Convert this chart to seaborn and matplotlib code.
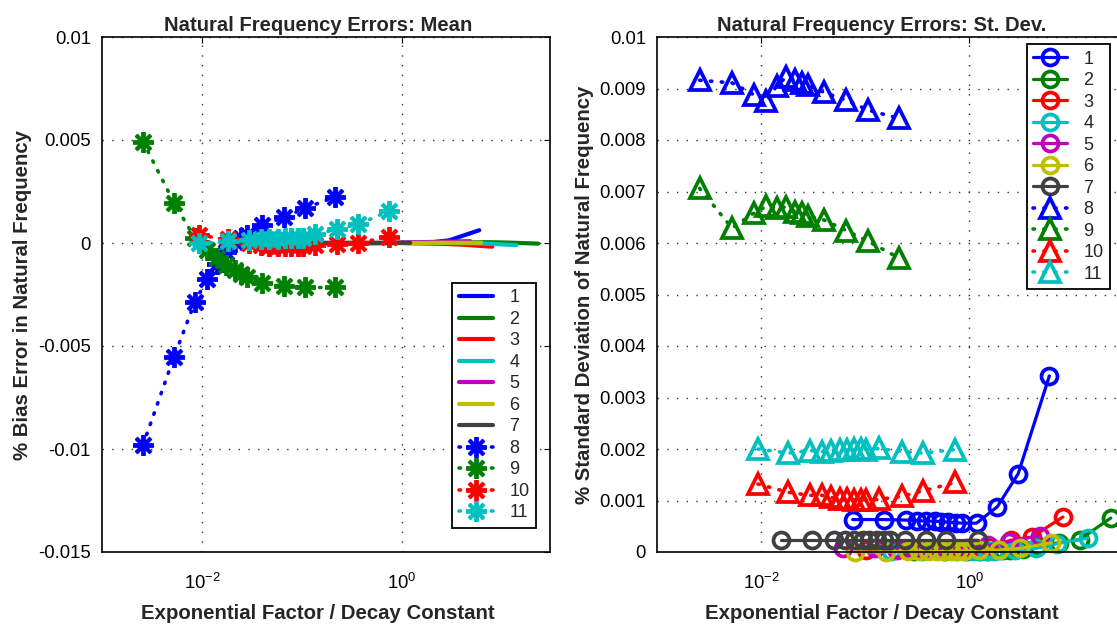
import matplotlib
matplotlib.use("Agg")
import matplotlib.pyplot as plt
import seaborn as sns
from matplotlib.ticker import FixedLocator, NullLocator, LogFormatterMathtext

# ---- data ------------------------------------------------------------------
LABELS = ["1", "2", "3", "4", "5", "6", "7", "8", "9", "10", "11"]
COLORS = [(0, 0, 1), (0, 0.5, 0), (1, 0, 0), (0, 0.75, 0.75), (0.75, 0, 0.75),
          (0.75, 0.75, 0), (0.25, 0.25, 0.25), (0, 0, 1), (0, 0.5, 0), (1, 0, 0),
          (0, 0.75, 0.75)]

X1 = [0.07586, 0.1514, 0.2455, 0.3162, 0.3802, 0.4677, 0.5370, 0.6310, 0.7413, 0.8511, 1.175, 1.862, 2.951, 5.888]
X2 = [0.2951, 0.5888, 0.9550, 1.230, 1.479, 1.820, 2.089, 2.455, 2.884, 3.311, 4.571, 7.244, 11.48, 22.91]
X3 = [0.1023, 0.2042, 0.3311, 0.4266, 0.5129, 0.6310, 0.7244, 0.8511, 1.000, 1.148, 1.585, 2.512, 3.981, 7.943]
X4 = [0.1778, 0.3548, 0.5754, 0.7413, 0.8913, 1.096, 1.259, 1.479, 1.738, 1.995, 2.754, 4.365, 6.918, 13.80]
X5 = [0.06166, 0.1230, 0.1995, 0.2570, 0.3090, 0.3802, 0.4365, 0.5129, 0.6026, 0.6918, 0.9550, 1.514, 2.399, 4.786]
X6 = [0.07943, 0.1585, 0.2570, 0.3311, 0.3981, 0.4898, 0.5623, 0.6607, 0.7762, 0.8913, 1.230, 1.950, 3.090, 6.166]
X7 = [0.01549, 0.03090, 0.05012, 0.06457, 0.07762, 0.09550, 0.1096, 0.1288, 0.1514, 0.1738, 0.2399, 0.3802, 0.6026, 1.202]
X89 = [0.00257, 0.00525, 0.00851, 0.01122, 0.01413, 0.01738, 0.02138, 0.02455, 0.02818, 0.03981, 0.06607, 0.1072, 0.2113]
X1011 = [0.00933, 0.01820, 0.02951, 0.03890, 0.04677, 0.05754, 0.06761, 0.07762, 0.09120, 0.1023, 0.1349, 0.2239, 0.3631, 0.7328]

MEAN1 = [0, 0, 0, 0, 0, 0, 0, 0, 0, 0, 0.00001, 0.00002, 0.00013, 0.00062]
MEAN2 = [0, 0, 0, 0, 0, 0, 0.00001, 0.00001, 0.00001, 0.00002, 0.00003, 0.00004, 0.00002, -0.00003]
MEAN3 = [0, 0, 0, 0, 0, 0, 0, 0, 0, -0.00001, -0.00002, -0.00004, -0.00008, -0.00018]
MEAN4 = [0, 0, 0, 0, 0, 0.00001, 0.00001, 0.00001, 0.00001, 0.00001, 0, -0.00001, -0.00003, -0.00010]
MEAN5 = [0, 0, 0, 0, 0, 0, 0, 0, 0, 0.00001, 0.00002, 0.00004, 0.00006, 0.00009]
MEAN6 = [0, 0, 0, 0, 0, 0, 0, 0, 0, 0, 0, 0.00001, 0.00001, 0.00001]
MEAN7 = [0, 0, 0, 0, 0, 0, 0, 0, 0, 0, 0, 0, 0, 0.00001]
MEAN8 = [-0.0098, -0.00552, -0.00284, -0.00177, -0.00104, -0.00045, 0.00003, 0.00022, 0.00040, 0.00085, 0.00125, 0.00169, 0.00223]
MEAN9 = [0.00492, 0.00195, 0.00023, -0.00036, -0.00074, -0.00109, -0.00133, -0.00150, -0.00167, -0.00196, -0.00211, -0.00216, -0.00216]
MEAN10 = [0.00037, 0.00018, -0.00002, -0.00012, -0.00015, -0.00016, -0.00016, -0.00016, -0.00016, -0.00015, -0.00011, -0.00006, 0.00001, 0.00030]
MEAN11 = [-0.00001, 0.00008, 0.00013, 0.00017, 0.00018, 0.00020, 0.00022, 0.00023, 0.00024, 0.00025, 0.00042, 0.00067, 0.00091, 0.00154]

STD1 = [0.00063, 0.00063, 0.00062, 0.00061, 0.00060, 0.00060, 0.00059, 0.00058, 0.00057, 0.00056, 0.00056, 0.00088, 0.00152, 0.00342]
STD2 = [0.00001, 0.00001, 0.00002, 0.00002, 0.00002, 0.00003, 0.00003, 0.00004, 0.00005, 0.00006, 0.00012, 0.00018, 0.00024, 0.00066]
STD3 = [0.00003, 0.00003, 0.00003, 0.00004, 0.00004, 0.00004, 0.00005, 0.00005, 0.00006, 0.00007, 0.00010, 0.00023, 0.00029, 0.00068]
STD4 = [0.00001, 0.00001, 0.00001, 0.00001, 0.00001, 0.00002, 0.00002, 0.00002, 0.00002, 0.00003, 0.00004, 0.00007, 0.00016, 0.00027]
STD5 = [0.00008, 0.00007, 0.00006, 0.00005, 0.00005, 0.00005, 0.00005, 0.00005, 0.00006, 0.00006, 0.00008, 0.00013, 0.00020, 0.00032]
STD6 = [0.00000, 0.00000, 0.00001, 0.00001, 0.00001, 0.00001, 0.00001, 0.00001, 0.00002, 0.00002, 0.00003, 0.00004, 0.00007, 0.00018]
STD7 = [0.00024, 0.00024, 0.00024, 0.00024, 0.00024, 0.00024, 0.00024, 0.00024, 0.00024, 0.00024, 0.00024, 0.00024, 0.00024, 0.00024]
STD8 = [0.00916, 0.00911, 0.00888, 0.00875, 0.00905, 0.00922, 0.00917, 0.00910, 0.00906, 0.00893, 0.00877, 0.00858, 0.00842]
STD9 = [0.00706, 0.00629, 0.00658, 0.00671, 0.00668, 0.00670, 0.00661, 0.00658, 0.00652, 0.00645, 0.00624, 0.00603, 0.00571]
STD10 = [0.00132, 0.00116, 0.00110, 0.00110, 0.00106, 0.00103, 0.00102, 0.00101, 0.00101, 0.00101, 0.00102, 0.00108, 0.00119, 0.00135]
STD11 = [0.00200, 0.00192, 0.00197, 0.00195, 0.00197, 0.00199, 0.00199, 0.00200, 0.00200, 0.00199, 0.00201, 0.00195, 0.00192, 0.00199]

MEAN_TICKS = [-0.015, -0.01, -0.005, 0, 0.005, 0.01]
MEAN_TICKLABELS = ["-0.015", "-0.01", "-0.005", "0", "0.005", "0.01"]
STD_TICKS = [0, 0.001, 0.002, 0.003, 0.004, 0.005, 0.006, 0.007, 0.008, 0.009, 0.01]
STD_TICKLABELS = ["0", "0.001", "0.002", "0.003", "0.004", "0.005", "0.006", "0.007", "0.008", "0.009", "0.01"]

XS = [X1, X2, X3, X4, X5, X6, X7, X89, X89, X1011, X1011]
MEANS = [MEAN1, MEAN2, MEAN3, MEAN4, MEAN5, MEAN6, MEAN7, MEAN8, MEAN9, MEAN10, MEAN11]
STDS = [STD1, STD2, STD3, STD4, STD5, STD6, STD7, STD8, STD9, STD10, STD11]

# ---- style -----------------------------------------------------------------
sns.set_theme(style="white")
plt.rcParams['font.family'] = ['Liberation Sans', 'DejaVu Sans']
plt.rcParams['mathtext.default'] = 'regular'

DOTS = (0, (0.4, 2.6))

fig = plt.figure(figsize=(11.17, 6.26), dpi=100)
ax_mean = fig.add_axes([102 / 1117, 74 / 626, 448 / 1117, 515 / 626])
ax_std = fig.add_axes([657 / 1117, 74 / 626, 466 / 1117, 515 / 626])


def style_axes(ax, ticks, ticklabels, ylim, title, ylabel):
    ax.set_xscale('log')
    ax.set_xlim(1e-3, 30)
    ax.set_ylim(*ylim)
    ax.xaxis.set_major_locator(FixedLocator([1e-2, 1]))
    ax.xaxis.set_major_formatter(LogFormatterMathtext())
    ax.xaxis.set_minor_locator(NullLocator())
    ax.set_yticks(ticks)
    ax.set_yticklabels(ticklabels)
    ax.tick_params(which='both', direction='in', top=True, right=True, length=4,
                   width=0.8, labelsize=13.3, colors='black')
    ax.tick_params(axis='x', pad=15)
    ax.tick_params(axis='y', pad=8)
    ax.grid(True, which='major', color='0.2', linestyle=(0, (1, 6)), linewidth=1.0)
    for sp in ax.spines.values():
        sp.set_color('black')
        sp.set_linewidth(1.2)
    ax.set_title(title, fontsize=14.6, fontweight='bold', pad=4)
    ax.title.set_x(0.482)
    ax.set_xlabel("Exponential Factor / Decay Constant", fontsize=14.7, fontweight='bold', labelpad=8)
    ax.xaxis.label.set_x(0.482)
    ax.set_ylabel(ylabel, fontsize=14.7, fontweight='bold', labelpad=4)


def add_legend(ax, loc, anchor):
    leg = ax.legend(loc=loc, bbox_to_anchor=anchor, borderaxespad=0,
                    fontsize=13, handlelength=1.9, labelspacing=0.25, frameon=True,
                    fancybox=False, framealpha=1, edgecolor='black', borderpad=0.35,
                    handletextpad=0.9)
    leg.get_frame().set_linewidth(1.3)
    return leg


# ---- left: mean ------------------------------------------------------------
for i in range(11):
    if i < 7:
        sns.lineplot(x=XS[i], y=MEANS[i], ax=ax_mean, color=COLORS[i], lw=3,
                     sort=False, estimator=None, label=LABELS[i], clip_on=False)
    else:
        sns.lineplot(x=XS[i], y=MEANS[i], ax=ax_mean, color=COLORS[i], lw=2.6,
                     linestyle=DOTS, dash_capstyle='round', marker=(8, 2, 0),
                     markersize=15, markeredgewidth=2.8, markeredgecolor=COLORS[i],
                     sort=False, estimator=None, label=LABELS[i], clip_on=False)

style_axes(ax_mean, MEAN_TICKS, MEAN_TICKLABELS, (-0.015, 0.01),
           "Natural Frequency Errors: Mean", "% Bias Error in Natural Frequency")
add_legend(ax_mean, 'lower right', (0.968, 0.047))

# ---- right: standard deviation ---------------------------------------------
for i in range(11):
    if i < 7:
        sns.lineplot(x=XS[i], y=STDS[i], ax=ax_std, color=COLORS[i], lw=2.3,
                     marker='o', markersize=11.5, markerfacecolor='none',
                     markeredgewidth=2.7, markeredgecolor=COLORS[i],
                     sort=False, estimator=None, label=LABELS[i], clip_on=False)
    else:
        sns.lineplot(x=XS[i], y=STDS[i], ax=ax_std, color=COLORS[i], lw=2.6,
                     linestyle=DOTS, dash_capstyle='round', marker='^',
                     markersize=14, markerfacecolor='none', markeredgewidth=2.7,
                     markeredgecolor=COLORS[i], sort=False, estimator=None,
                     label=LABELS[i], clip_on=False)

style_axes(ax_std, STD_TICKS, STD_TICKLABELS, (0, 0.01),
           "Natural Frequency Errors: St. Dev.", "% Standard Deviation of Natural Frequency")
add_legend(ax_std, 'upper right', (0.972, 0.986))

fig.savefig("out.png", dpi=100)
